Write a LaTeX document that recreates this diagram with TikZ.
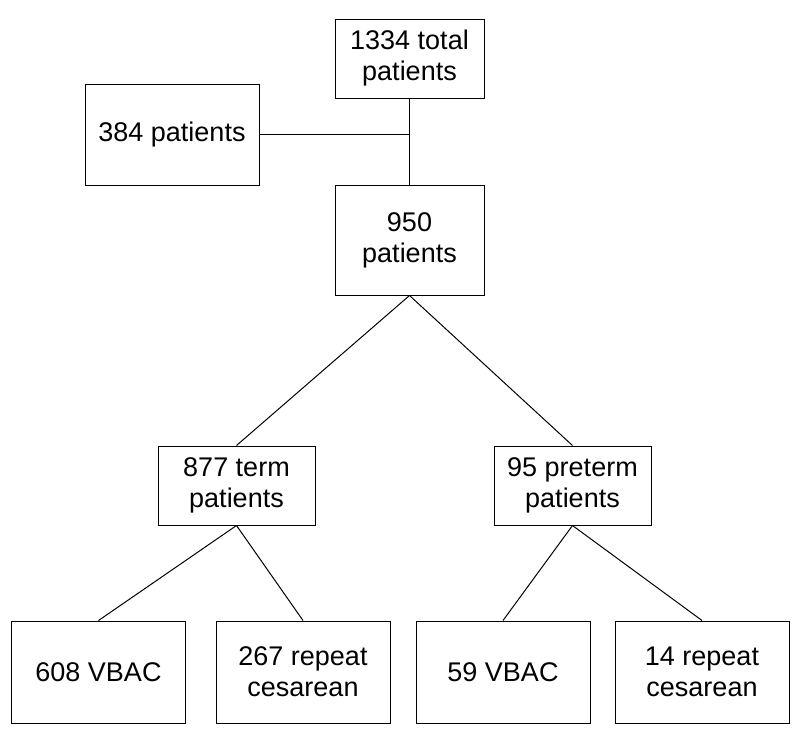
\documentclass[tikz,border=0pt]{standalone}
\usepackage{fontspec}
\setmainfont{Liberation Sans}
\begin{document}
\begin{tikzpicture}[x=1pt,y=-1pt,line width=1pt,
  box/.style={draw,rectangle,inner sep=0pt,align=center,
    font=\fontsize{27}{31}\selectfont},
  small/.style={box,minimum width=149pt,minimum height=79pt},
  wide/.style={box,minimum width=157pt,minimum height=79pt},
  leaf/.style={box,minimum width=174pt,minimum height=102pt}]
\useasboundingbox (0,0) rectangle (800,736);
% top of the chart
\node[small] (total) at (409.5,58.5) {1334 total\\patients};
\node[box,minimum width=174pt,minimum height=101pt] (excl) at (172,134.5) {384 patients};
\node[small,minimum height=110pt] (incl) at (409.5,240) {950\\patients};
\coordinate (join) at (total.south |- excl.east);
\draw (total) -- (incl);
\draw (excl) -- (join);
% term and preterm
\node[wide] (term) at (236.5,485.5) {877 term\\patients};
\node[wide] (pre) at (572.5,485.5) {95 preterm\\patients};
\draw (incl.south) -- (term.north);
\draw (incl.south) -- (pre.north);
% outcomes
\node[leaf] (vbacA) at (98.5,672) {608 VBAC};
\node[leaf] (repA) at (303,672) {267 repeat\\cesarean};
\node[leaf] (vbacB) at (503,672) {59 VBAC};
\node[leaf] (repB) at (702,672) {14 repeat\\cesarean};
\draw (term.south) -- (vbacA.north);
\draw (term.south) -- (repA.north);
\draw (pre.south) -- (vbacB.north);
\draw (pre.south) -- (repB.north);
\end{tikzpicture}
\end{document}
